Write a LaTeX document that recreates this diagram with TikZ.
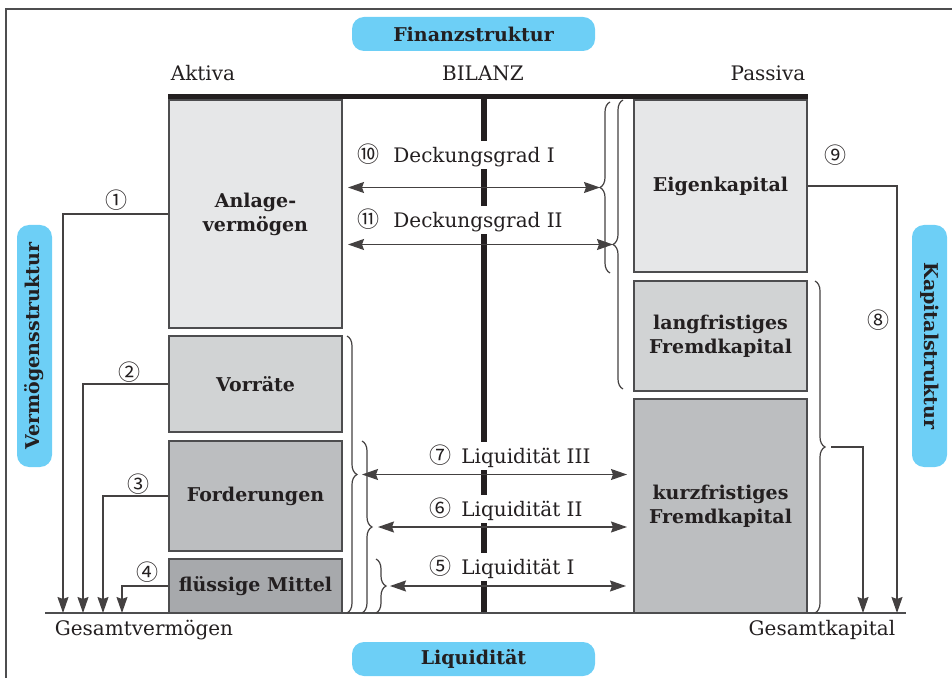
\documentclass[tikz,border=0pt]{standalone}
\usepackage{fontspec}
\setmainfont{DejaVu Serif}
\newfontfamily\circfont{Noto Sans CJK SC}
\usetikzlibrary{arrows.meta,decorations.pathreplacing}
\definecolor{pillblue}{HTML}{6DCFF6}
\definecolor{ink}{HTML}{231F20}
\definecolor{edge}{HTML}{4D4D4F}
\definecolor{gA}{HTML}{E6E7E8}
\definecolor{gB}{HTML}{D1D3D4}
\definecolor{gC}{HTML}{BCBEC0}
\definecolor{gD}{HTML}{A7A9AC}
\newcommand{\cn}[1]{{\circfont\fontsize{11}{12}\selectfont #1}}
\begin{document}
\begin{tikzpicture}[x=0.5pt,y=-0.5pt,
  txt/.style={text=ink,font=\fontsize{10}{12}\selectfont,inner sep=1pt},
  boxlabel/.style={text=ink,font=\bfseries\fontsize{9.5}{12}\selectfont,align=center},
  box/.style={draw=edge,line width=1pt,inner sep=0pt,boxlabel},
  pill/.style={fill=pillblue,rounded corners=6pt,inner sep=0pt,text=ink,font=\bfseries\fontsize{9.5}{11}\selectfont},
  conn/.style={draw=ink!85,line width=0.7pt},
  arr/.style={conn,-{Stealth[length=8pt,width=5.5pt,inset=1pt]}},
  darr/.style={conn,{Stealth[length=8pt,width=5.5pt,inset=1pt]}-{Stealth[length=8pt,width=5.5pt,inset=1pt]}},
  brc/.style={draw=ink!85,line width=0.6pt,decorate,decoration={brace,amplitude=5pt}},
  lbl/.style={txt,fill=white,anchor=west,inner xsep=1pt,inner ysep=1.2pt},
  cnum/.style={text=ink,font=\circfont\fontsize{11}{12}\selectfont,inner sep=0pt}
]
\useasboundingbox (0,0) rectangle (952,678);
% frame
\draw[edge,line width=0.8pt] (6,678) -- (6,9) -- (952,9);

% pills
\node[pill,minimum width=121.5pt,minimum height=17pt] (pfin) at (473.5,34) {Finanzstruktur};
\node[pill,minimum width=121.5pt,minimum height=17pt] (pliq) at (473.5,659) {Liquidität};
\node[pill,minimum width=121pt,minimum height=17.5pt,rotate=90] (pverm) at (34.5,346) {Vermögensstruktur};
\node[pill,minimum width=121pt,minimum height=17.5pt,rotate=-90] (pkap) at (929.5,346) {Kapitalstruktur};

% headings
\node[txt] (akt) at (203,73) {Aktiva};
\node[txt] (bil) at (483,73) {BILANZ};
\node[txt] (pas) at (768,73) {Passiva};

% bars
\draw[ink,line width=2.5pt] (168,97) -- (808,97);
\draw[ink,line width=2.6pt] (484,97) -- (484,613);
\draw[edge,line width=0.9pt] (45,613) -- (906,613);

% boxes
\node[box,fill=gA,minimum width=86.5pt,minimum height=114pt] (av) at (255.5,214) {Anlage-\\vermögen};
\node[box,fill=gB,minimum width=86.5pt,minimum height=48pt] (vo) at (255.5,384) {Vorräte};
\node[box,fill=gC,minimum width=86.5pt,minimum height=55pt] (fo) at (255.5,496) {Forderungen};
\node[box,fill=gD,minimum width=86.5pt,minimum height=27pt] (fm) at (255.5,586) {flüssige Mittel};
\node[box,fill=gA,minimum width=86.5pt,minimum height=86pt] (ek) at (720.5,186) {Eigenkapital};
\node[box,fill=gB,minimum width=86.5pt,minimum height=55pt] (lf) at (720.5,336) {langfristiges\\Fremdkapital};
\node[box,fill=gC,minimum width=86.5pt,minimum height=107pt] (kf) at (720.5,506) {kurzfristiges\\Fremdkapital};

% bottom labels
\node[txt] (gv) at (144,630) {Gesamtvermögen};
\node[txt] (gk) at (822,630) {Gesamtkapital};

% center labels
\node[lbl] (l10) at (355,155) {\cn{⑩}\hspace{7pt}Deckungsgrad I};
\node[lbl] (l11) at (355,220) {\cn{⑪}\hspace{7pt}Deckungsgrad II};
\node[lbl] (l7) at (427,456) {\cn{⑦}\hspace{5pt}Liquidität III};
\node[lbl] (l6) at (427,509) {\cn{⑥}\hspace{5pt}Liquidität II};
\node[lbl] (l5) at (427,567) {\cn{⑤}\hspace{5pt}Liquidität I};

% braces
\draw[brc] (610,273) -- (610,102);
\coordinate (b1) at (600,187.5);
\draw[brc] (623,389) -- (623,100);
\coordinate (b2) at (613,244.5);
\draw[brc] (347,336) -- (347,613);
\coordinate (bA) at (357,474.5);
\draw[brc] (362,441) -- (362,613);
\coordinate (bB) at (372,527);
\draw[brc] (376,559) -- (376,613);
\coordinate (bC) at (386,586);
\draw[brc] (815,281) -- (815,613);
\coordinate (b8) at (825,447);

% center arrows
\draw[darr,shorten <=2.5pt] (b1 -| av.east) -- (b1);
\draw[darr,shorten <=2.5pt] (b2 -| av.east) -- (b2);
\draw[darr,shorten <=2.5pt,shorten >=3pt] (bA) -- (bA -| kf.west);
\draw[darr,shorten <=3pt,shorten >=3pt] (bB) -- (bB -| kf.west);
\draw[darr,shorten <=2pt,shorten >=3.5pt] (bC) -- (bC -| kf.west);

% side connectors
\coordinate (g1) at (63,613);
\coordinate (g2) at (83,613);
\coordinate (g3) at (103,613);
\coordinate (g4) at (122,613);
\coordinate (g8) at (863,613);
\coordinate (g9) at (897,613);
\draw[arr] (av.west) -| (g1);
\draw[arr] (vo.west) -| (g2);
\draw[arr] (fo.west) -| (g3);
\draw[arr] (fm.west) -| (g4);
\draw[arr] (ek.east) -| (g9);
\draw[arr] ([xshift=3pt]b8) -| (g8);

% circled numbers
\node[cnum] (n1) at (116,200) {①};
\node[cnum] (n2) at (129,372) {②};
\node[cnum] (n3) at (138,484) {③};
\node[cnum] (n4) at (147,572) {④};
\node[cnum] (n9) at (835,155) {⑨};
\node[cnum] (n8) at (878,320) {⑧};
\end{tikzpicture}
\end{document}
